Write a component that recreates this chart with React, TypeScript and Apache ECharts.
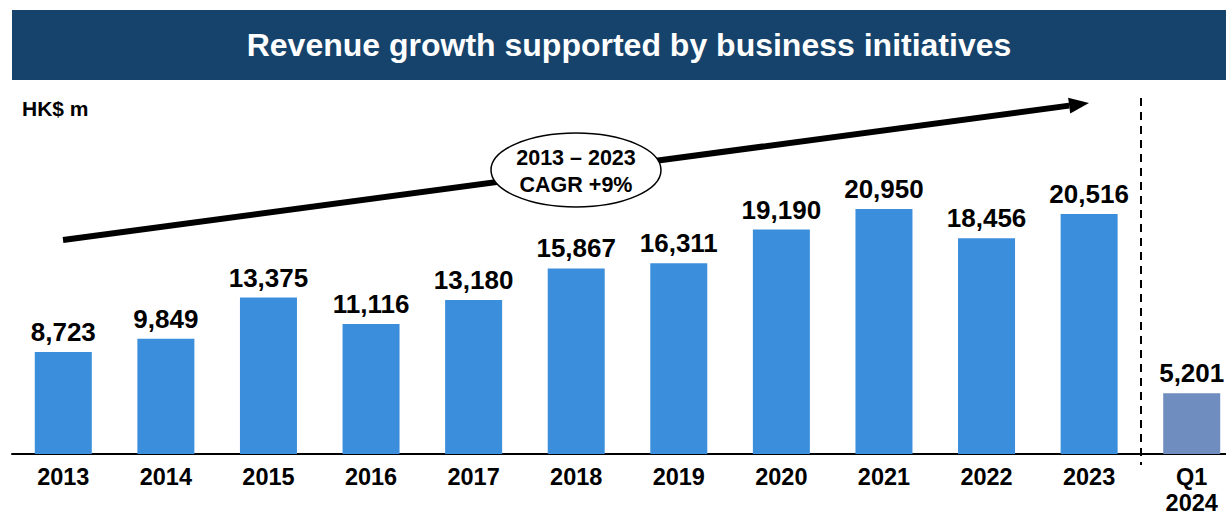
import React, { useEffect, useRef } from "react";
import * as echarts from "echarts";

const categories = ["2013", "2014", "2015", "2016", "2017", "2018", "2019", "2020", "2021", "2022", "2023", "Q1\n2024"];
const revenue = [8723, 9849, 13375, 11116, 13180, 15867, 16311, 19190, 20950, 18456, 20516, 5201];
const title = "Revenue growth supported by business initiatives";
const unitLabel = "HK$ m";
const cagrLines = ["2013 – 2023", "CAGR +9%"];

const FONT = "'Liberation Sans', Arial, Helvetica, sans-serif";
const BLUE = "#3A8EDB";
const GREY_BLUE = "#6F8DBE";
const NAVY = "#16436B";

export default function App() {
  const ref = useRef<HTMLDivElement>(null);
  useEffect(() => {
    if (!ref.current) return;
    const chart = echarts.init(ref.current, undefined, { renderer: "svg" });
    const x0 = 63, y0 = 240, x1 = 1089, y1 = 103;
    const ang = Math.atan2(y1 - y0, x1 - x0);
    const headLen = 20, headHalf = 8;
    const bx = x1 - headLen * Math.cos(ang), by = y1 - headLen * Math.sin(ang);
    const px = -Math.sin(ang) * headHalf, py = Math.cos(ang) * headHalf;
    chart.setOption({
      animation: false,
      backgroundColor: "#ffffff",
      grid: { left: 12, right: -17, top: 103.2, height: 350.8, containLabel: false, outerBoundsMode: "none" },
      xAxis: {
        type: "category",
        data: categories,
        axisTick: { show: false },
        axisLine: { lineStyle: { color: "#000", width: 2 } },
        axisLabel: {
          color: "#000",
          fontFamily: FONT,
          fontWeight: "bold",
          fontSize: 23.5,
          margin: 10,
          lineHeight: 26,
          interval: 0,
        },
      },
      yAxis: { type: "value", min: 0, max: 30000, show: false, splitLine: { show: false } },
      series: [
        {
          type: "bar",
          barWidth: 57,
          data: revenue.map((v, i) => ({
            value: v,
            itemStyle: { color: i === revenue.length - 1 ? GREY_BLUE : BLUE },
          })),
          label: {
            show: true,
            position: "top",
            distance: 7,
            color: "#000",
            fontFamily: FONT,
            fontWeight: "bold",
            fontSize: 26,
            formatter: (p: any) => Number(p.value).toLocaleString("en-US"),
          },
        },
      ],
      graphic: [
        { type: "rect", shape: { x: 12, y: 10, width: 1214, height: 70 }, style: { fill: NAVY } },
        {
          type: "text",
          x: 629,
          y: 45,
          style: {
            text: title,
            fill: "#fff",
            font: `bold 32px ${FONT}`,
            textAlign: "center",
            textVerticalAlign: "middle",
          },
        },
        {
          type: "text",
          x: 22,
          y: 108,
          style: { text: unitLabel, fill: "#000", font: `bold 21px ${FONT}`, textAlign: "left", textVerticalAlign: "middle" },
        },
        {
          type: "line",
          shape: { x1: x0, y1: y0, x2: bx, y2: by },
          style: { stroke: "#000", lineWidth: 6 },
        },
        {
          type: "polygon",
          shape: { points: [[x1, y1], [bx + px, by + py], [bx - px, by - py]] },
          style: { fill: "#000" },
        },
        {
          type: "ellipse",
          shape: { cx: 576, cy: 170, rx: 85, ry: 37 },
          style: { fill: "#fff", stroke: "#000", lineWidth: 1.5 },
        },
        {
          type: "text",
          x: 576,
          y: 158,
          style: { text: cagrLines[0], fill: "#000", font: `bold 21.5px ${FONT}`, textAlign: "center", textVerticalAlign: "middle" },
        },
        {
          type: "text",
          x: 576,
          y: 185,
          style: { text: cagrLines[1], fill: "#000", font: `bold 21.5px ${FONT}`, textAlign: "center", textVerticalAlign: "middle" },
        },
        {
          type: "line",
          shape: { x1: 1141, y1: 98, x2: 1141, y2: 465 },
          style: { stroke: "#000", lineWidth: 2, lineDash: [8, 6] },
        },
      ],
    });
    return () => chart.dispose();
  }, []);
  return <div ref={ref} style={{ position: "fixed", left: 0, top: 0, width: 1226, height: 516 }} />;
}
